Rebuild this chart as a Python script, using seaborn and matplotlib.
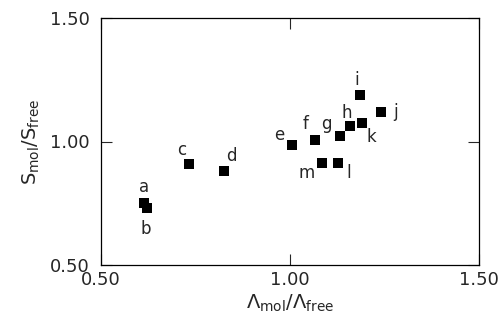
import matplotlib
matplotlib.use('Agg')
import matplotlib.pyplot as plt
import seaborn as sns
import pandas as pd

# data
labels = ['a', 'b', 'c', 'd', 'e', 'f', 'g', 'h', 'i', 'j', 'k', 'l', 'm']
lam_ratio = [0.614, 0.622, 0.733, 0.825, 1.004, 1.067, 1.131, 1.158,
             1.185, 1.241, 1.191, 1.126, 1.085]
s_ratio = [0.751, 0.731, 0.909, 0.881, 0.986, 1.006, 1.021, 1.063,
           1.188, 1.119, 1.074, 0.913, 0.912]
ticks = [0.5, 1.0, 1.5]
tick_labels = ['0.50', '1.00', '1.50']

# label offsets in pixels (dx, dy) relative to each point
label_offsets = {
    'a': (0, 16), 'b': (-1, -21), 'c': (-7, 14), 'd': (8, 15),
    'e': (-12, 10), 'f': (-10, 16), 'g': (-13, 12), 'h': (-3, 13),
    'i': (-3, 15), 'j': (14, 0), 'k': (9, -14), 'l': (11, -10),
    'm': (-16, -10),
}

df = pd.DataFrame({'label': labels, 'lam': lam_ratio, 's': s_ratio})

sns.set_style('ticks')
plt.rcParams['font.family'] = ['DejaVu Sans']

fig, ax = plt.subplots(figsize=(5.02, 3.23), dpi=100)
fig.subplots_adjust(left=101 / 502, right=479 / 502, top=1 - 18 / 323, bottom=1 - 265 / 323)

sns.scatterplot(data=df, x='lam', y='s', marker='s', s=52, color='black',
                edgecolor='black', linewidth=0, ax=ax)

for _, row in df.iterrows():
    dx, dy = label_offsets[row['label']]
    ax.annotate(row['label'], (row['lam'], row['s']), xytext=(dx, dy),
                textcoords='offset pixels', ha='center', va='center', fontsize=12)

ax.set_xlim(0.5, 1.5)
ax.set_ylim(0.5, 1.5)
ax.set_xticks(ticks)
ax.set_xticklabels(tick_labels)
ax.set_yticks(ticks)
ax.set_yticklabels(tick_labels)
ax.tick_params(direction='in', length=8, width=0.8, top=True, right=True, labelsize=13)
ax.tick_params(axis='x', pad=4)
ax.tick_params(axis='y', pad=8)
for sp in ax.spines.values():
    sp.set_linewidth(0.9)
    sp.set_color('black')

ax.set_xlabel('Λ$_{\\mathrm{mol}}$/Λ$_{\\mathrm{free}}$', fontsize=14, labelpad=3)
ax.set_ylabel('S$_{\\mathrm{mol}}$/S$_{\\mathrm{free}}$', fontsize=14, labelpad=6)

fig.savefig('out.png', dpi=100)
